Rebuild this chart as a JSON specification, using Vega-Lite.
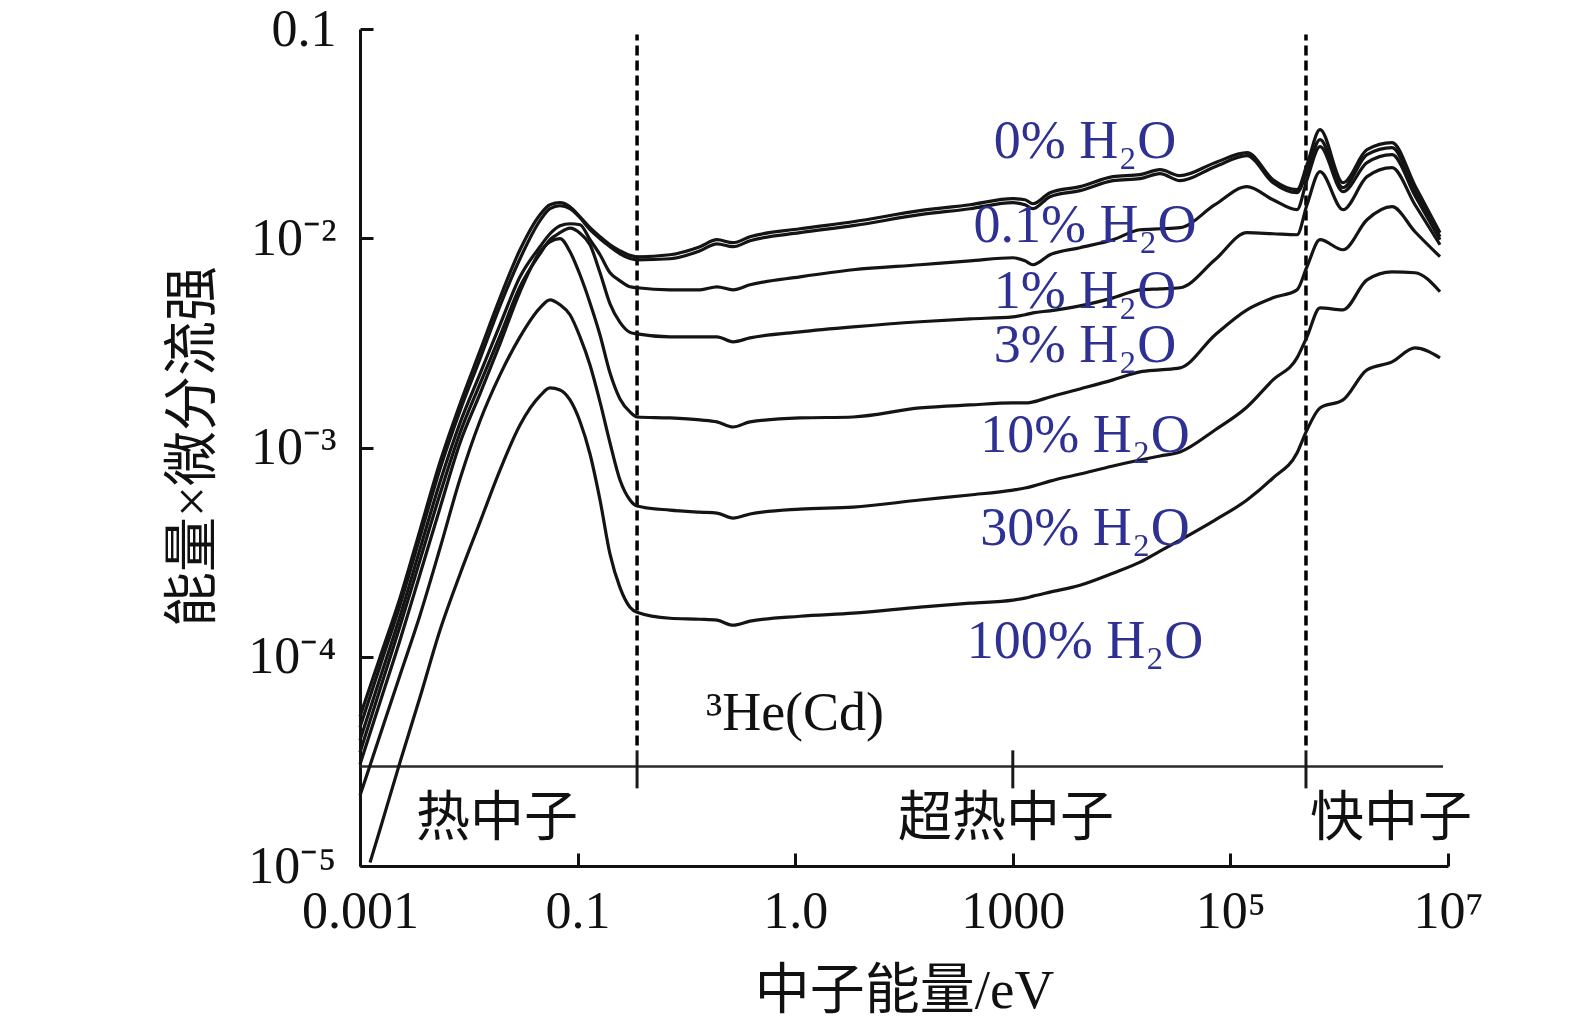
{
  "$schema": "https://vega.github.io/schema/vega-lite/v6.json",
  "width": 1088,
  "height": 837,
  "autosize": {"type": "none"},
  "padding": {"left": 360, "top": 29, "right": 127, "bottom": 162},
  "background": "#ffffff",
  "config": {
    "view": {"stroke": null},
    "axis": {
      "grid": false,
      "domainColor": "#111111",
      "domainWidth": 3,
      "tickColor": "#111111",
      "tickWidth": 3,
      "tickSize": -13,
      "labelFont": "Liberation Serif",
      "labelFontSize": 52,
      "labelColor": "#111111",
      "titleFont": "'Liberation Serif', 'Noto Sans CJK SC'",
      "titleFontSize": 55,
      "titleFontWeight": "normal",
      "titleColor": "#111111"
    }
  },
  "datasets": {
    "heline": [
      {"from": 0.001, "to": 9000000, "flux": 2.99e-5}
    ],
    "regionticks": [
      {"energy": 0.352, "lo": 2.35e-5, "hi": 3.57e-5},
      {"energy": 1000, "lo": 2.35e-5, "hi": 3.57e-5},
      {"energy": 495000, "lo": 2.35e-5, "hi": 3.57e-5}
    ],
    "bounds": [
      {"energy": 0.352, "lo": 3.77e-5, "hi": 0.0941},
      {"energy": 495000, "lo": 3.77e-5, "hi": 0.0941}
    ],
    "curves": [
      {"series": "0%", "energy": 0.001, "flux": 5.19e-5},
      {"series": "0%", "energy": 0.001527, "flux": 9.95e-5},
      {"series": "0%", "energy": 0.002331, "flux": 1.91e-4},
      {"series": "0%", "energy": 0.00356, "flux": 4.03e-4},
      {"series": "0%", "energy": 0.005436, "flux": 8.52e-4},
      {"series": "0%", "energy": 0.0083, "flux": 1.615e-3},
      {"series": "0%", "energy": 0.01267, "flux": 2.895e-3},
      {"series": "0%", "energy": 0.01935, "flux": 5.19e-3},
      {"series": "0%", "energy": 0.02955, "flux": 8.81e-3},
      {"series": "0%", "energy": 0.04512, "flux": 1.296e-2},
      {"series": "0%", "energy": 0.05576, "flux": 1.446e-2},
      {"series": "0%", "energy": 0.0689, "flux": 1.479e-2},
      {"series": "0%", "energy": 0.08514, "flux": 1.415e-2},
      {"series": "0%", "energy": 0.1052, "flux": 1.267e-2},
      {"series": "0%", "energy": 0.13, "flux": 1.123e-2},
      {"series": "0%", "energy": 0.1607, "flux": 1.017e-2},
      {"series": "0%", "energy": 0.1986, "flux": 9.31e-3},
      {"series": "0%", "energy": 0.2453, "flux": 8.71e-3},
      {"series": "0%", "energy": 0.3031, "flux": 8.28e-3},
      {"series": "0%", "energy": 0.3516, "flux": 8.155e-3},
      {"series": "0%", "energy": 0.7068, "flux": 8.34e-3},
      {"series": "0%", "energy": 1.334, "flux": 9.11e-3},
      {"series": "0%", "energy": 1.91, "flux": 9.84e-3},
      {"series": "0%", "energy": 2.681, "flux": 9.52e-3},
      {"series": "0%", "energy": 3.842, "flux": 1.017e-2},
      {"series": "0%", "energy": 11.07, "flux": 1.11e-2},
      {"series": "0%", "energy": 33.99, "flux": 1.199e-2},
      {"series": "0%", "energy": 140.3, "flux": 1.354e-2},
      {"series": "0%", "energy": 404.3, "flux": 1.446e-2},
      {"series": "0%", "energy": 1004, "flux": 1.545e-2},
      {"series": "0%", "energy": 1294, "flux": 1.528e-2},
      {"series": "0%", "energy": 1533, "flux": 1.462e-2},
      {"series": "0%", "energy": 2197, "flux": 1.651e-2},
      {"series": "0%", "energy": 4146, "flux": 1.764e-2},
      {"series": "0%", "energy": 8337, "flux": 1.97e-2},
      {"series": "0%", "energy": 14760, "flux": 2.013e-2},
      {"series": "0%", "energy": 22540, "flux": 2.127e-2},
      {"series": "0%", "energy": 34420, "flux": 1.991e-2},
      {"series": "0%", "energy": 72190, "flux": 2.297e-2},
      {"series": "0%", "energy": 142100, "flux": 2.565e-2},
      {"series": "0%", "energy": 246300, "flux": 1.905e-2},
      {"series": "0%", "energy": 409400, "flux": 1.706e-2},
      {"series": "0%", "energy": 505800, "flux": 2.247e-2},
      {"series": "0%", "energy": 666100, "flux": 3.304e-2},
      {"series": "0%", "energy": 1084000, "flux": 1.843e-2},
      {"series": "0%", "energy": 1801000, "flux": 2.651e-2},
      {"series": "0%", "energy": 3057000, "flux": 2.863e-2},
      {"series": "0%", "energy": 4974000, "flux": 1.784e-2},
      {"series": "0%", "energy": 8444000, "flux": 1.063e-2},

      {"series": "0.1%", "energy": 0.001, "flux": 4.6e-5},
      {"series": "0.1%", "energy": 0.001527, "flux": 9.01e-5},
      {"series": "0.1%", "energy": 0.002331, "flux": 1.764e-4},
      {"series": "0.1%", "energy": 0.00356, "flux": 3.73e-4},
      {"series": "0.1%", "energy": 0.005436, "flux": 7.89e-4},
      {"series": "0.1%", "energy": 0.0083, "flux": 1.495e-3},
      {"series": "0.1%", "energy": 0.01267, "flux": 2.651e-3},
      {"series": "0.1%", "energy": 0.01935, "flux": 4.75e-3},
      {"series": "0.1%", "energy": 0.02955, "flux": 7.98e-3},
      {"series": "0.1%", "energy": 0.04512, "flux": 1.213e-2},
      {"series": "0.1%", "energy": 0.05576, "flux": 1.384e-2},
      {"series": "0.1%", "energy": 0.0689, "flux": 1.43e-2},
      {"series": "0.1%", "energy": 0.08514, "flux": 1.384e-2},
      {"series": "0.1%", "energy": 0.1052, "flux": 1.253e-2},
      {"series": "0.1%", "energy": 0.13, "flux": 1.098e-2},
      {"series": "0.1%", "energy": 0.1607, "flux": 9.945e-3},
      {"series": "0.1%", "energy": 0.1986, "flux": 9.11e-3},
      {"series": "0.1%", "energy": 0.2453, "flux": 8.43e-3},
      {"series": "0.1%", "energy": 0.3031, "flux": 8.01e-3},
      {"series": "0.1%", "energy": 0.3516, "flux": 7.89e-3},
      {"series": "0.1%", "energy": 0.7068, "flux": 7.98e-3},
      {"series": "0.1%", "energy": 1.334, "flux": 8.71e-3},
      {"series": "0.1%", "energy": 1.91, "flux": 9.41e-3},
      {"series": "0.1%", "energy": 2.681, "flux": 9.11e-3},
      {"series": "0.1%", "energy": 3.842, "flux": 9.73e-3},
      {"series": "0.1%", "energy": 11.07, "flux": 1.063e-2},
      {"series": "0.1%", "energy": 33.99, "flux": 1.148e-2},
      {"series": "0.1%", "energy": 140.3, "flux": 1.296e-2},
      {"series": "0.1%", "energy": 404.3, "flux": 1.384e-2},
      {"series": "0.1%", "energy": 1004, "flux": 1.479e-2},
      {"series": "0.1%", "energy": 1294, "flux": 1.446e-2},
      {"series": "0.1%", "energy": 1533, "flux": 1.384e-2},
      {"series": "0.1%", "energy": 2197, "flux": 1.58e-2},
      {"series": "0.1%", "energy": 4146, "flux": 1.688e-2},
      {"series": "0.1%", "energy": 8337, "flux": 1.884e-2},
      {"series": "0.1%", "energy": 14760, "flux": 1.926e-2},
      {"series": "0.1%", "energy": 22540, "flux": 2.036e-2},
      {"series": "0.1%", "energy": 34420, "flux": 1.884e-2},
      {"series": "0.1%", "energy": 72190, "flux": 2.198e-2},
      {"series": "0.1%", "energy": 142100, "flux": 2.482e-2},
      {"series": "0.1%", "energy": 246300, "flux": 1.843e-2},
      {"series": "0.1%", "energy": 409400, "flux": 1.651e-2},
      {"series": "0.1%", "energy": 505800, "flux": 2.081e-2},
      {"series": "0.1%", "energy": 666100, "flux": 2.96e-2},
      {"series": "0.1%", "energy": 1084000, "flux": 1.745e-2},
      {"series": "0.1%", "energy": 1801000, "flux": 2.509e-2},
      {"series": "0.1%", "energy": 3057000, "flux": 2.711e-2},
      {"series": "0.1%", "energy": 4974000, "flux": 1.688e-2},
      {"series": "0.1%", "energy": 8444000, "flux": 1.017e-2},

      {"series": "1%", "energy": 0.001, "flux": 3.986e-5},
      {"series": "1%", "energy": 0.001527, "flux": 7.89e-5},
      {"series": "1%", "energy": 0.002331, "flux": 1.562e-4},
      {"series": "1%", "energy": 0.00356, "flux": 3.27e-4},
      {"series": "1%", "energy": 0.005436, "flux": 6.84e-4},
      {"series": "1%", "energy": 0.0083, "flux": 1.31e-3},
      {"series": "1%", "energy": 0.01267, "flux": 2.247e-3},
      {"series": "1%", "energy": 0.01935, "flux": 3.856e-3},
      {"series": "1%", "energy": 0.02955, "flux": 6.54e-3},
      {"series": "1%", "energy": 0.04512, "flux": 9.11e-3},
      {"series": "1%", "energy": 0.05576, "flux": 1.051e-2},
      {"series": "1%", "energy": 0.0689, "flux": 1.148e-2},
      {"series": "1%", "energy": 0.08514, "flux": 1.173e-2},
      {"series": "1%", "energy": 0.1052, "flux": 1.16e-2},
      {"series": "1%", "energy": 0.13, "flux": 9.84e-3},
      {"series": "1%", "energy": 0.1607, "flux": 8.34e-3},
      {"series": "1%", "energy": 0.1986, "flux": 6.84e-3},
      {"series": "1%", "energy": 0.2453, "flux": 6.26e-3},
      {"series": "1%", "energy": 0.3031, "flux": 5.86e-3},
      {"series": "1%", "energy": 0.3516, "flux": 5.8e-3},
      {"series": "1%", "energy": 0.7068, "flux": 5.67e-3},
      {"series": "1%", "energy": 1.334, "flux": 5.67e-3},
      {"series": "1%", "energy": 1.91, "flux": 5.86e-3},
      {"series": "1%", "energy": 2.681, "flux": 5.67e-3},
      {"series": "1%", "energy": 3.842, "flux": 5.99e-3},
      {"series": "1%", "energy": 11.07, "flux": 6.54e-3},
      {"series": "1%", "energy": 33.99, "flux": 7.07e-3},
      {"series": "1%", "energy": 140.3, "flux": 7.47e-3},
      {"series": "1%", "energy": 404.3, "flux": 7.8e-3},
      {"series": "1%", "energy": 1004, "flux": 8.07e-3},
      {"series": "1%", "energy": 1294, "flux": 7.8e-3},
      {"series": "1%", "energy": 1533, "flux": 7.47e-3},
      {"series": "1%", "energy": 2197, "flux": 8.34e-3},
      {"series": "1%", "energy": 4146, "flux": 9.01e-3},
      {"series": "1%", "energy": 8337, "flux": 9.84e-3},
      {"series": "1%", "energy": 14760, "flux": 1.098e-2},
      {"series": "1%", "energy": 22540, "flux": 1.11e-2},
      {"series": "1%", "energy": 34420, "flux": 1.123e-2},
      {"series": "1%", "energy": 72190, "flux": 1.446e-2},
      {"series": "1%", "energy": 142100, "flux": 1.764e-2},
      {"series": "1%", "energy": 246300, "flux": 1.528e-2},
      {"series": "1%", "energy": 409400, "flux": 1.369e-2},
      {"series": "1%", "energy": 505800, "flux": 1.905e-2},
      {"series": "1%", "energy": 666100, "flux": 2.741e-2},
      {"series": "1%", "energy": 1084000, "flux": 1.669e-2},
      {"series": "1%", "energy": 1801000, "flux": 2.297e-2},
      {"series": "1%", "energy": 3057000, "flux": 2.509e-2},
      {"series": "1%", "energy": 4974000, "flux": 1.597e-2},
      {"series": "1%", "energy": 8444000, "flux": 9.84e-3},

      {"series": "3%", "energy": 0.001, "flux": 3.49e-5},
      {"series": "3%", "energy": 0.001527, "flux": 6.99e-5},
      {"series": "3%", "energy": 0.002331, "flux": 1.399e-4},
      {"series": "3%", "energy": 0.00356, "flux": 2.895e-4},
      {"series": "3%", "energy": 0.005436, "flux": 5.99e-4},
      {"series": "3%", "energy": 0.0083, "flux": 1.173e-3},
      {"series": "3%", "energy": 0.01267, "flux": 2.013e-3},
      {"series": "3%", "energy": 0.01935, "flux": 3.416e-3},
      {"series": "3%", "energy": 0.02955, "flux": 5.86e-3},
      {"series": "3%", "energy": 0.04512, "flux": 8.43e-3},
      {"series": "3%", "energy": 0.05576, "flux": 9.84e-3},
      {"series": "3%", "energy": 0.0689, "flux": 1.063e-2},
      {"series": "3%", "energy": 0.08514, "flux": 1.117e-2},
      {"series": "3%", "energy": 0.1052, "flux": 1.057e-2},
      {"series": "3%", "energy": 0.13, "flux": 9.31e-3},
      {"series": "3%", "energy": 0.1607, "flux": 6.84e-3},
      {"series": "3%", "energy": 0.1986, "flux": 4.86e-3},
      {"series": "3%", "energy": 0.2453, "flux": 3.96e-3},
      {"series": "3%", "energy": 0.3031, "flux": 3.55e-3},
      {"series": "3%", "energy": 0.3516, "flux": 3.49e-3},
      {"series": "3%", "energy": 0.7068, "flux": 3.38e-3},
      {"series": "3%", "energy": 1.334, "flux": 3.38e-3},
      {"series": "3%", "energy": 1.91, "flux": 3.38e-3},
      {"series": "3%", "energy": 2.681, "flux": 3.2e-3},
      {"series": "3%", "energy": 3.842, "flux": 3.34e-3},
      {"series": "3%", "energy": 11.07, "flux": 3.57e-3},
      {"series": "3%", "energy": 33.99, "flux": 3.77e-3},
      {"series": "3%", "energy": 140.3, "flux": 3.99e-3},
      {"series": "3%", "energy": 404.3, "flux": 4.12e-3},
      {"series": "3%", "energy": 1004, "flux": 4.21e-3},
      {"series": "3%", "energy": 1294, "flux": 4.31e-3},
      {"series": "3%", "energy": 1533, "flux": 4.4e-3},
      {"series": "3%", "energy": 2197, "flux": 4.5e-3},
      {"series": "3%", "energy": 4146, "flux": 4.75e-3},
      {"series": "3%", "energy": 8337, "flux": 5.19e-3},
      {"series": "3%", "energy": 14760, "flux": 5.67e-3},
      {"series": "3%", "energy": 22540, "flux": 5.73e-3},
      {"series": "3%", "energy": 34420, "flux": 5.8e-3},
      {"series": "3%", "energy": 72190, "flux": 7.89e-3},
      {"series": "3%", "energy": 142100, "flux": 1.063e-2},
      {"series": "3%", "energy": 246300, "flux": 1.051e-2},
      {"series": "3%", "energy": 409400, "flux": 1.039e-2},
      {"series": "3%", "energy": 505800, "flux": 1.446e-2},
      {"series": "3%", "energy": 666100, "flux": 2.081e-2},
      {"series": "3%", "energy": 1084000, "flux": 1.369e-2},
      {"series": "3%", "energy": 1801000, "flux": 1.97e-2},
      {"series": "3%", "energy": 3057000, "flux": 2.174e-2},
      {"series": "3%", "energy": 4974000, "flux": 1.446e-2},
      {"series": "3%", "energy": 8444000, "flux": 9.31e-3},

      {"series": "10%", "energy": 0.001, "flux": 3.06e-5},
      {"series": "10%", "energy": 0.001527, "flux": 6.06e-5},
      {"series": "10%", "energy": 0.002331, "flux": 1.199e-4},
      {"series": "10%", "energy": 0.00356, "flux": 2.48e-4},
      {"series": "10%", "energy": 0.005436, "flux": 5.14e-4},
      {"series": "10%", "energy": 0.0083, "flux": 1.051e-3},
      {"series": "10%", "energy": 0.01267, "flux": 1.803e-3},
      {"series": "10%", "energy": 0.01935, "flux": 3.13e-3},
      {"series": "10%", "energy": 0.02955, "flux": 5.55e-3},
      {"series": "10%", "energy": 0.04512, "flux": 8.62e-3},
      {"series": "10%", "energy": 0.05576, "flux": 9.62e-3},
      {"series": "10%", "energy": 0.0689, "flux": 9.95e-3},
      {"series": "10%", "energy": 0.08514, "flux": 8.62e-3},
      {"series": "10%", "energy": 0.1052, "flux": 6.69e-3},
      {"series": "10%", "energy": 0.13, "flux": 4.91e-3},
      {"series": "10%", "energy": 0.1607, "flux": 3.45e-3},
      {"series": "10%", "energy": 0.1986, "flux": 2.27e-3},
      {"series": "10%", "energy": 0.2453, "flux": 1.707e-3},
      {"series": "10%", "energy": 0.3031, "flux": 1.479e-3},
      {"series": "10%", "energy": 0.3516, "flux": 1.399e-3},
      {"series": "10%", "energy": 0.7068, "flux": 1.384e-3},
      {"series": "10%", "energy": 1.334, "flux": 1.354e-3},
      {"series": "10%", "energy": 1.91, "flux": 1.325e-3},
      {"series": "10%", "energy": 2.681, "flux": 1.253e-3},
      {"series": "10%", "energy": 3.842, "flux": 1.325e-3},
      {"series": "10%", "energy": 11.07, "flux": 1.384e-3},
      {"series": "10%", "energy": 33.99, "flux": 1.399e-3},
      {"series": "10%", "energy": 140.3, "flux": 1.545e-3},
      {"series": "10%", "energy": 404.3, "flux": 1.597e-3},
      {"series": "10%", "energy": 1004, "flux": 1.633e-3},
      {"series": "10%", "energy": 1294, "flux": 1.633e-3},
      {"series": "10%", "energy": 1533, "flux": 1.651e-3},
      {"series": "10%", "energy": 2197, "flux": 1.744e-3},
      {"series": "10%", "energy": 4146, "flux": 1.905e-3},
      {"series": "10%", "energy": 8337, "flux": 2.104e-3},
      {"series": "10%", "energy": 14760, "flux": 2.297e-3},
      {"series": "10%", "energy": 22540, "flux": 2.349e-3},
      {"series": "10%", "energy": 34420, "flux": 2.401e-3},
      {"series": "10%", "energy": 72190, "flux": 3.45e-3},
      {"series": "10%", "energy": 142100, "flux": 4.55e-3},
      {"series": "10%", "energy": 246300, "flux": 5.19e-3},
      {"series": "10%", "energy": 409400, "flux": 5.67e-3},
      {"series": "10%", "energy": 505800, "flux": 7.31e-3},
      {"series": "10%", "energy": 666100, "flux": 9.84e-3},
      {"series": "10%", "energy": 1084000, "flux": 8.81e-3},
      {"series": "10%", "energy": 1801000, "flux": 1.226e-2},
      {"series": "10%", "energy": 3057000, "flux": 1.415e-2},
      {"series": "10%", "energy": 4974000, "flux": 1.074e-2},
      {"series": "10%", "energy": 8444000, "flux": 8.16e-3},

      {"series": "30%", "energy": 0.001, "flux": 2.17e-5},
      {"series": "30%", "energy": 0.001527, "flux": 4.21e-5},
      {"series": "30%", "energy": 0.002331, "flux": 8.16e-5},
      {"series": "30%", "energy": 0.00356, "flux": 1.58e-4},
      {"series": "30%", "energy": 0.005436, "flux": 3.3e-4},
      {"series": "30%", "energy": 0.0083, "flux": 7.07e-4},
      {"series": "30%", "energy": 0.01267, "flux": 1.339e-3},
      {"series": "30%", "energy": 0.01935, "flux": 2.223e-3},
      {"series": "30%", "energy": 0.02955, "flux": 3.38e-3},
      {"series": "30%", "energy": 0.04512, "flux": 4.65e-3},
      {"series": "30%", "energy": 0.05576, "flux": 5.08e-3},
      {"series": "30%", "energy": 0.0689, "flux": 4.81e-3},
      {"series": "30%", "energy": 0.08514, "flux": 4.31e-3},
      {"series": "30%", "energy": 0.1052, "flux": 3.38e-3},
      {"series": "30%", "energy": 0.13, "flux": 2.48e-3},
      {"series": "30%", "energy": 0.1607, "flux": 1.651e-3},
      {"series": "30%", "energy": 0.1986, "flux": 1.051e-3},
      {"series": "30%", "energy": 0.2453, "flux": 6.99e-4},
      {"series": "30%", "energy": 0.3031, "flux": 5.61e-4},
      {"series": "30%", "energy": 0.3516, "flux": 5.25e-4},
      {"series": "30%", "energy": 0.7068, "flux": 5.02e-4},
      {"series": "30%", "energy": 1.334, "flux": 4.91e-4},
      {"series": "30%", "energy": 1.91, "flux": 4.86e-4},
      {"series": "30%", "energy": 2.681, "flux": 4.6e-4},
      {"series": "30%", "energy": 3.842, "flux": 4.81e-4},
      {"series": "30%", "energy": 11.07, "flux": 5.08e-4},
      {"series": "30%", "energy": 33.99, "flux": 5.19e-4},
      {"series": "30%", "energy": 140.3, "flux": 5.61e-4},
      {"series": "30%", "energy": 404.3, "flux": 5.93e-4},
      {"series": "30%", "energy": 1004, "flux": 6.26e-4},
      {"series": "30%", "energy": 1294, "flux": 6.4e-4},
      {"series": "30%", "energy": 1533, "flux": 6.54e-4},
      {"series": "30%", "energy": 2197, "flux": 6.91e-4},
      {"series": "30%", "energy": 4146, "flux": 7.47e-4},
      {"series": "30%", "energy": 8337, "flux": 8.16e-4},
      {"series": "30%", "energy": 14760, "flux": 8.71e-4},
      {"series": "30%", "energy": 22540, "flux": 9.11e-4},
      {"series": "30%", "energy": 34420, "flux": 9.52e-4},
      {"series": "30%", "energy": 72190, "flux": 1.213e-3},
      {"series": "30%", "energy": 142100, "flux": 1.562e-3},
      {"series": "30%", "energy": 246300, "flux": 2.104e-3},
      {"series": "30%", "energy": 409400, "flux": 2.68e-3},
      {"series": "30%", "energy": 505800, "flux": 3.38e-3},
      {"series": "30%", "energy": 666100, "flux": 4.65e-3},
      {"series": "30%", "energy": 1084000, "flux": 4.55e-3},
      {"series": "30%", "energy": 1801000, "flux": 6.33e-3},
      {"series": "30%", "energy": 3057000, "flux": 6.91e-3},
      {"series": "30%", "energy": 4974000, "flux": 6.84e-3},
      {"series": "30%", "energy": 8444000, "flux": 5.55e-3},

      {"series": "100%", "energy": 0.001236, "flux": 1.039e-5},
      {"series": "100%", "energy": 0.001527, "flux": 1.495e-5},
      {"series": "100%", "energy": 0.002331, "flux": 3.13e-5},
      {"series": "100%", "energy": 0.00356, "flux": 6.4e-5},
      {"series": "100%", "energy": 0.005436, "flux": 1.339e-4},
      {"series": "100%", "energy": 0.0083, "flux": 2.48e-4},
      {"series": "100%", "energy": 0.01267, "flux": 4.4e-4},
      {"series": "100%", "energy": 0.01935, "flux": 7.8e-4},
      {"series": "100%", "energy": 0.02955, "flux": 1.281e-3},
      {"series": "100%", "energy": 0.04512, "flux": 1.764e-3},
      {"series": "100%", "energy": 0.05576, "flux": 1.926e-3},
      {"series": "100%", "energy": 0.0689, "flux": 1.884e-3},
      {"series": "100%", "energy": 0.08514, "flux": 1.688e-3},
      {"series": "100%", "energy": 0.1052, "flux": 1.332e-3},
      {"series": "100%", "energy": 0.13, "flux": 9.31e-4},
      {"series": "100%", "energy": 0.1607, "flux": 5.61e-4},
      {"series": "100%", "energy": 0.1986, "flux": 3.09e-4},
      {"series": "100%", "energy": 0.2453, "flux": 2.139e-4},
      {"series": "100%", "energy": 0.3031, "flux": 1.725e-4},
      {"series": "100%", "energy": 0.3516, "flux": 1.633e-4},
      {"series": "100%", "energy": 0.7068, "flux": 1.528e-4},
      {"series": "100%", "energy": 1.334, "flux": 1.511e-4},
      {"series": "100%", "energy": 1.91, "flux": 1.495e-4},
      {"series": "100%", "energy": 2.681, "flux": 1.415e-4},
      {"series": "100%", "energy": 3.842, "flux": 1.479e-4},
      {"series": "100%", "energy": 11.07, "flux": 1.562e-4},
      {"series": "100%", "energy": 33.99, "flux": 1.615e-4},
      {"series": "100%", "energy": 140.3, "flux": 1.725e-4},
      {"series": "100%", "energy": 404.3, "flux": 1.803e-4},
      {"series": "100%", "energy": 1004, "flux": 1.864e-4},
      {"series": "100%", "energy": 1294, "flux": 1.905e-4},
      {"series": "100%", "energy": 1533, "flux": 1.948e-4},
      {"series": "100%", "energy": 2197, "flux": 2.036e-4},
      {"series": "100%", "energy": 4146, "flux": 2.198e-4},
      {"series": "100%", "energy": 8337, "flux": 2.509e-4},
      {"series": "100%", "energy": 14760, "flux": 2.832e-4},
      {"series": "100%", "energy": 22540, "flux": 3.2e-4},
      {"series": "100%", "energy": 34420, "flux": 3.61e-4},
      {"series": "100%", "energy": 72190, "flux": 4.5e-4},
      {"series": "100%", "energy": 142100, "flux": 5.61e-4},
      {"series": "100%", "energy": 246300, "flux": 7.15e-4},
      {"series": "100%", "energy": 409400, "flux": 9.41e-4},
      {"series": "100%", "energy": 505800, "flux": 1.213e-3},
      {"series": "100%", "energy": 666100, "flux": 1.545e-3},
      {"series": "100%", "energy": 1084000, "flux": 1.688e-3},
      {"series": "100%", "energy": 1801000, "flux": 2.349e-3},
      {"series": "100%", "energy": 3057000, "flux": 2.565e-3},
      {"series": "100%", "energy": 4974000, "flux": 2.99e-3},
      {"series": "100%", "energy": 8444000, "flux": 2.68e-3}
    ],
    "serieslabels": [
      {"label": "0% H₂O", "energy": 4610, "flux": 0.0243},
      {"label": "0.1% H₂O", "energy": 4610, "flux": 0.00962},
      {"label": "1% H₂O", "energy": 4610, "flux": 0.00465},
      {"label": "3% H₂O", "energy": 4610, "flux": 0.002565},
      {"label": "10% H₂O", "energy": 4610, "flux": 0.000952},
      {"label": "30% H₂O", "energy": 4610, "flux": 0.000342},
      {"label": "100% H₂O", "energy": 4610, "flux": 0.0000984}
    ],
    "regionlabels": [
      {"label": "热中子", "energy": 0.01816, "flux": 1.65e-5},
      {"label": "超热中子", "energy": 866, "flux": 1.65e-5},
      {"label": "快中子", "energy": 2990000, "flux": 1.65e-5},
      {"label": "³He(Cd)", "energy": 9.96, "flux": 5.31e-5}
    ]
  },
  "layer": [
    {
      "data": {"name": "heline"},
      "mark": {"type": "rule", "color": "#2a2a2a", "strokeWidth": 2.5},
      "encoding": {
        "x": {"field": "from", "type": "quantitative"},
        "x2": {"field": "to"},
        "y": {"field": "flux", "type": "quantitative"}
      }
    },
    {
      "data": {"name": "regionticks"},
      "mark": {"type": "rule", "color": "#1a1a1a", "strokeWidth": 3},
      "encoding": {
        "x": {"field": "energy", "type": "quantitative"},
        "y": {"field": "lo", "type": "quantitative"},
        "y2": {"field": "hi"}
      }
    },
    {
      "data": {"name": "bounds"},
      "mark": {"type": "rule", "color": "#000000", "strokeWidth": 3.5, "strokeDash": [10, 5]},
      "encoding": {
        "x": {"field": "energy", "type": "quantitative"},
        "y": {"field": "lo", "type": "quantitative"},
        "y2": {"field": "hi"}
      }
    },
    {
      "data": {"name": "curves"},
      "mark": {"type": "line", "interpolate": "monotone", "strokeWidth": 3.2, "color": "#141414"},
      "encoding": {
        "x": {
          "field": "energy",
          "type": "quantitative",
          "scale": {"type": "log", "domain": [0.001, 10000000], "nice": false},
          "axis": {
            "title": "中子能量/eV",
            "values": [0.001, 0.1, 10, 1000, 100000, 10000000],
            "labelExpr": "datum.value < 0.01 ? '0.001' : datum.value < 1 ? '0.1' : datum.value < 100 ? '1.0' : datum.value < 10000 ? '1000' : datum.value < 1000000 ? '10⁵' : '10⁷'",
            "labelFlush": false,
            "labelOverlap": false,
            "labelPadding": 33,
            "titleY": 124,
            "titleBaseline": "middle"
          }
        },
        "y": {
          "field": "flux",
          "type": "quantitative",
          "scale": {"type": "log", "domain": [0.00001, 0.1], "nice": false},
          "axis": {
            "title": "能量×微分流强",
            "values": [0.00001, 0.0001, 0.001, 0.01, 0.1],
            "labelExpr": "datum.value > 0.05 ? '0.1' : datum.value > 0.005 ? '10⁻²' : datum.value > 0.0005 ? '10⁻³' : datum.value > 0.00005 ? '10⁻⁴' : '10⁻⁵'",
            "labelOverlap": false,
            "labelPadding": 37,
            "titleAngle": -90,
            "titleX": -168,
            "titleY": 417,
            "titleAlign": "center",
            "titleBaseline": "middle"
          }
        },
        "detail": {"field": "series", "type": "nominal"}
      }
    },
    {
      "data": {"name": "serieslabels"},
      "mark": {"type": "text", "font": "Liberation Serif", "fontSize": 54, "color": "#2e3192", "align": "center", "baseline": "alphabetic"},
      "encoding": {
        "x": {"field": "energy", "type": "quantitative"},
        "y": {"field": "flux", "type": "quantitative"},
        "text": {"field": "label"}
      }
    },
    {
      "data": {"name": "regionlabels"},
      "mark": {"type": "text", "font": "'Liberation Serif', 'Noto Sans CJK SC'", "fontSize": 54, "color": "#111111", "align": "center", "baseline": "middle"},
      "encoding": {
        "x": {"field": "energy", "type": "quantitative"},
        "y": {"field": "flux", "type": "quantitative"},
        "text": {"field": "label"}
      }
    }
  ]
}
